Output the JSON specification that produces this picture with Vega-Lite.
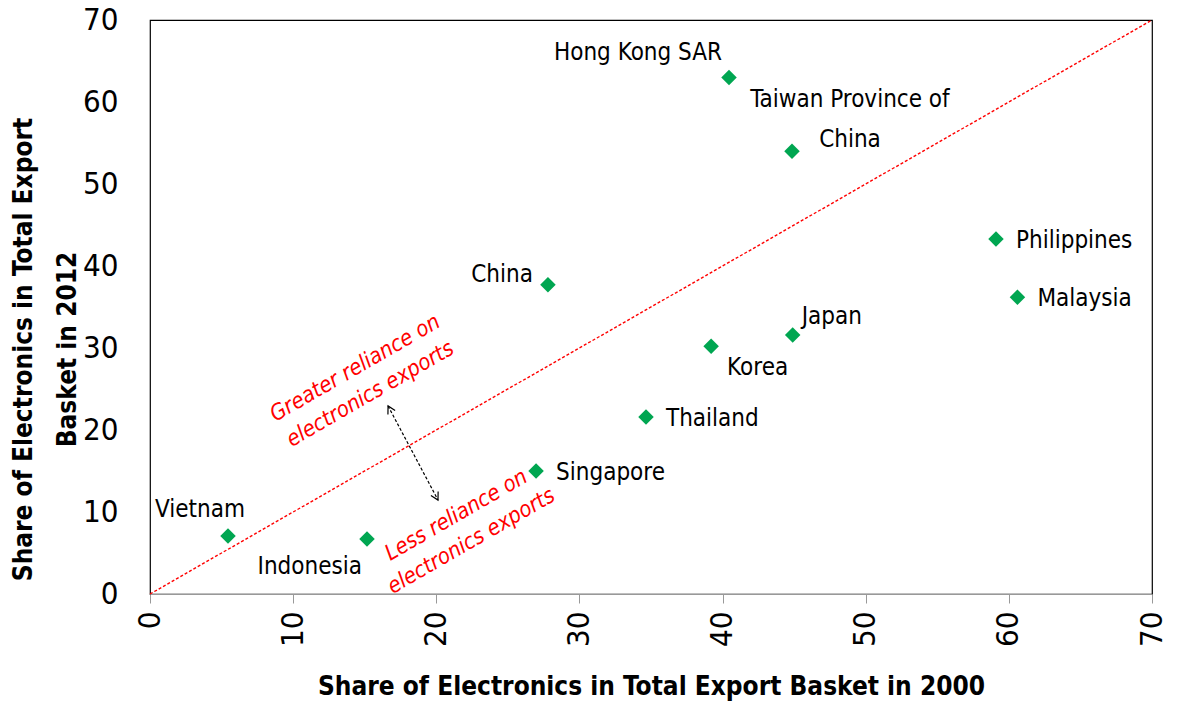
{
  "$schema": "https://vega.github.io/schema/vega-lite/v6.json",
  "width": 1002,
  "height": 574,
  "autosize": {"type": "none"},
  "padding": {"left": 150, "top": 20, "right": 27, "bottom": 114},
  "background": "white",
  "config": {
    "view": {"stroke": "#000", "strokeWidth": 1.2},
    "font": "DejaVu Sans Condensed"
  },
  "data": {
    "values": [
      {"label": "Hong Kong SAR", "x2000": 40.45, "y2012": 63.0},
      {"label": "Taiwan Province of\nChina", "x2000": 44.85, "y2012": 54.0},
      {"label": "Philippines", "x2000": 59.1, "y2012": 43.3},
      {"label": "Malaysia", "x2000": 60.6, "y2012": 36.2},
      {"label": "China", "x2000": 27.8, "y2012": 37.7},
      {"label": "Japan", "x2000": 44.9, "y2012": 31.6},
      {"label": "Korea", "x2000": 39.2, "y2012": 30.2},
      {"label": "Thailand", "x2000": 34.65, "y2012": 21.6},
      {"label": "Singapore", "x2000": 26.97, "y2012": 15.0},
      {"label": "Vietnam", "x2000": 5.45, "y2012": 7.07},
      {"label": "Indonesia", "x2000": 15.16, "y2012": 6.7}
    ]
  },
  "encoding": {
    "x": {
      "field": "x2000", "type": "quantitative",
      "scale": {"domain": [0, 70], "nice": false, "zero": true},
      "axis": {
        "title": "Share of Electronics in Total Export Basket in 2000",
        "values": [0, 10, 20, 30, 40, 50, 60, 70],
        "grid": false,
        "labelAngle": -90, "labelAlign": "right", "labelBaseline": "middle",
        "labelFont": "DejaVu Sans Condensed", "labelFontSize": 31, "labelColor": "#000",
        "labelPadding": 8,
        "tickSize": 9, "tickColor": "#999", "domainColor": "#999",
        "titleFont": "DejaVu Sans Condensed", "titleFontSize": 26, "titleFontWeight": "bold", "titleColor": "#000",
        "titleY": 92, "titleBaseline": "middle"
      }
    },
    "y": {
      "field": "y2012", "type": "quantitative",
      "scale": {"domain": [0, 70], "nice": false, "zero": true},
      "axis": {
        "title": ["Share of Electronics in Total Export", "Basket in 2012"],
        "values": [0, 10, 20, 30, 40, 50, 60, 70],
        "grid": false, "ticks": false, "domain": false,
        "labelFont": "DejaVu Sans Condensed", "labelFontSize": 31, "labelColor": "#000",
        "labelPadding": 32,
        "titleFont": "DejaVu Sans Condensed", "titleFontSize": 26, "titleFontWeight": "bold", "titleColor": "#000",
        "titleLineHeight": 44,
        "titleAngle": -90, "titleX": -127, "titleY": 329, "titleBaseline": "middle", "titleAlign": "center"
      }
    }
  },
  "layer": [
    {
      "data": {"values": [{"x2000": 0, "y2012": 0}, {"x2000": 70, "y2012": 70}]},
      "mark": {"type": "line", "color": "#FF0000", "strokeWidth": 1.4, "strokeDash": [3, 2]},
      "encoding": {}
    },
    {
      "data": {"values": [{"x2000": 16.63, "y2012": 22.93}, {"x2000": 20.12, "y2012": 11.46}]},
      "mark": {"type": "line", "color": "#000", "strokeWidth": 1.2, "strokeDash": [3, 2]},
      "encoding": {}
    },
    {
      "data": {"values": [{"x2000": 16.63, "y2012": 22.93}]},
      "mark": {"type": "point", "shape": "M -0.55 1 L 0 0 L 0.55 1", "filled": false, "stroke": "#000", "strokeWidth": 1.2, "size": 220, "angle": -28, "opacity": 1},
      "encoding": {}
    },
    {
      "data": {"values": [{"x2000": 20.12, "y2012": 11.46}]},
      "mark": {"type": "point", "shape": "M -0.55 1 L 0 0 L 0.55 1", "filled": false, "stroke": "#000", "strokeWidth": 1.2, "size": 220, "angle": 152, "opacity": 1},
      "encoding": {}
    },
    {
      "mark": {"type": "point", "shape": "diamond", "filled": true, "color": "#00A651", "size": 240, "opacity": 1}
    },
    {
      "transform": [{"filter": "datum.label == 'Hong Kong SAR'"}],
      "mark": {"type": "text", "align": "right", "baseline": "middle", "dx": -7, "dy": -24, "fontSize": 24, "color": "#000"},
      "encoding": {"text": {"field": "label"}}
    },
    {
      "transform": [{"filter": "indexof(datum.label, 'Taiwan') == 0"}],
      "mark": {"type": "text", "align": "center", "baseline": "middle", "dx": 58, "dy": -51, "fontSize": 24, "lineBreak": "\n", "lineHeight": 40, "color": "#000"},
      "encoding": {"text": {"field": "label"}}
    },
    {
      "transform": [{"filter": {"field": "label", "oneOf": ["Philippines", "Malaysia", "Thailand", "Singapore"]}}],
      "mark": {"type": "text", "align": "left", "baseline": "middle", "dx": 20, "dy": 2, "fontSize": 24, "color": "#000"},
      "encoding": {"text": {"field": "label"}}
    },
    {
      "transform": [{"filter": "datum.label == 'China'"}],
      "mark": {"type": "text", "align": "right", "baseline": "middle", "dx": -15, "dy": -10, "fontSize": 24, "color": "#000"},
      "encoding": {"text": {"field": "label"}}
    },
    {
      "transform": [{"filter": "datum.label == 'Japan'"}],
      "mark": {"type": "text", "align": "left", "baseline": "middle", "dx": 9, "dy": -18, "fontSize": 24, "color": "#000"},
      "encoding": {"text": {"field": "label"}}
    },
    {
      "transform": [{"filter": "datum.label == 'Korea'"}],
      "mark": {"type": "text", "align": "left", "baseline": "middle", "dx": 16, "dy": 22, "fontSize": 24, "color": "#000"},
      "encoding": {"text": {"field": "label"}}
    },
    {
      "transform": [{"filter": "datum.label == 'Vietnam'"}],
      "mark": {"type": "text", "align": "center", "baseline": "middle", "dx": -28, "dy": -26, "fontSize": 24, "color": "#000"},
      "encoding": {"text": {"field": "label"}}
    },
    {
      "transform": [{"filter": "datum.label == 'Indonesia'"}],
      "mark": {"type": "text", "align": "right", "baseline": "middle", "dx": -5, "dy": 28, "fontSize": 24, "color": "#000"},
      "encoding": {"text": {"field": "label"}}
    },
    {
      "data": {"values": [
        {"note": "Greater reliance on\nelectronics exports", "x2000": 14.81, "y2012": 26.1},
        {"note": "Less reliance on\nelectronics exports", "x2000": 21.87, "y2012": 8.17}
      ]},
      "mark": {"type": "text", "align": "center", "baseline": "middle", "angle": -30, "dy": -14, "fontSize": 22, "fontStyle": "italic", "color": "#FF0000", "lineBreak": "\n", "lineHeight": 30},
      "encoding": {"text": {"field": "note"}}
    }
  ]
}
